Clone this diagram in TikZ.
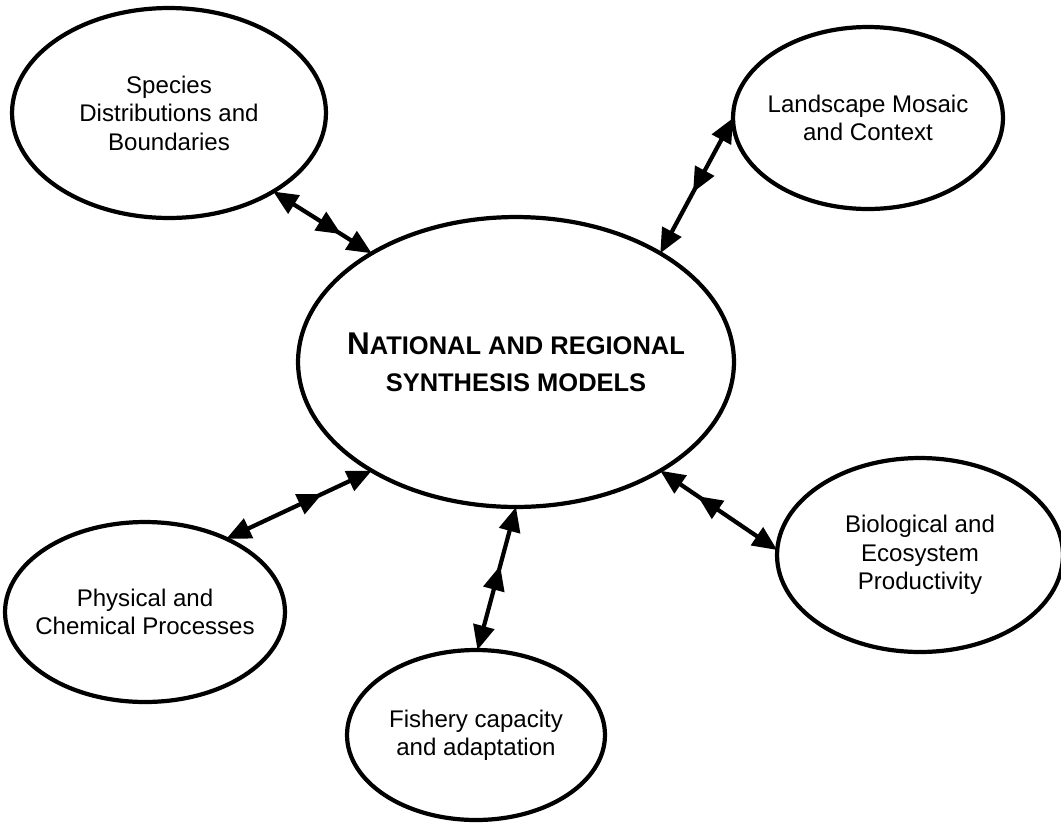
\documentclass[tikz,border=0pt]{standalone}
\usepackage{fontspec}
\setmainfont{Liberation Sans}
\usetikzlibrary{shapes.geometric,arrows.meta,decorations.markings}
\tikzset{
  topic/.style={ellipse,draw,line width=2.4pt,inner xsep=-3cm,inner ysep=-2cm,outer sep=0pt,align=center,
    font=\fontsize{13.7pt}{16.2pt}\selectfont},
  hub/.style={topic,font=\bfseries\fontsize{14.5pt}{21pt}\selectfont},
  link/.style={line width=2.4pt,>={Triangle[length=14pt,width=12pt]},<->,
    postaction={decorate},
    decoration={markings,mark=at position #1 with {\arrow{>}}}},
  link/.default=0.65
}
\begin{document}
\begin{tikzpicture}[x=0.02cm,y=-0.02cm]
\path[use as bounding box] (0,0) rectangle (1061,822);
\node[hub,minimum width=8.72cm,minimum height=5.80cm] (synth) at (516,362)
  {{\fontsize{17.9pt}{21pt}\selectfont N}ATIONAL AND REGIONAL\\SYNTHESIS MODELS};
\node[topic,minimum width=6.28cm,minimum height=4.20cm] (species) at (169,113)
  {Species\\Distributions and\\Boundaries};
\node[topic,minimum width=5.40cm,minimum height=3.64cm] (landscape) at (868,118)
  {Landscape Mosaic\\and Context};
\node[topic,minimum width=5.60cm,minimum height=3.60cm] (physical) at (145,612)
  {Physical and\\Chemical Processes};
\node[topic,minimum width=5.72cm,minimum height=3.88cm] (bio) at (920,555)
  {Biological and\\Ecosystem\\Productivity};
\node[topic,minimum width=5.16cm,minimum height=3.40cm] (fishery) at (476,735)
  {Fishery capacity\\and adaptation};
\draw[link=0.69] (species.-37) -- (synth.143);
\draw[link=0.55] (landscape.180) -- (synth.37);
\draw[link=0.66] (physical.42) -- (synth.217);
\draw[link=0.68] (bio.178) -- (synth.-37);
\draw[link=0.59] (fishery.89) -- (synth.-90);
\end{tikzpicture}
\end{document}
